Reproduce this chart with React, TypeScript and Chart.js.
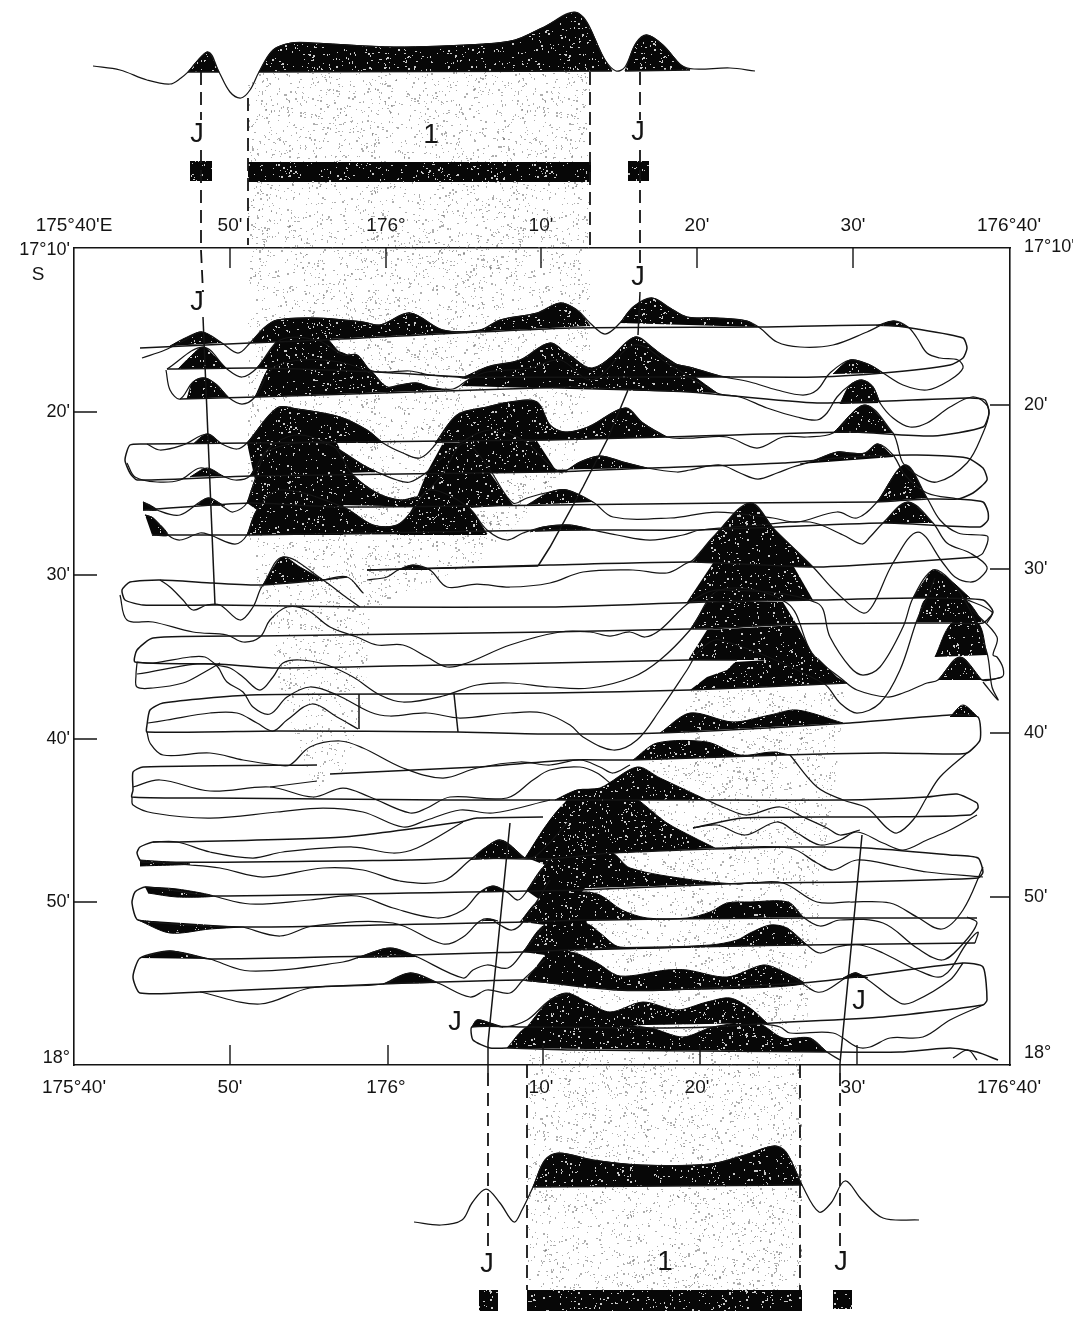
import React, { useEffect, useRef } from "react";
import { Chart, registerables } from "chart.js";
Chart.register(...registerables);

// Values are digitised sheet units; the axes map them to longitude and latitude labels.
const lonTicks = [74, 230, 386, 541, 697, 853, 1009];
const lonTopLabels = ["175°40'E", "50'", "176°", "10'", "20'", "30'", "176°40'"];
const lonBottomLabels = ["175°40'", "50'", "176°", "10'", "20'", "30'", "176°40'"];
const latLeftTicks = [250, 412, 575, 739, 902, 1058];
const latRightTicks = [247, 405, 569, 733, 897, 1053];
const latLabels = ["17°10'", "20'", "30'", "40'", "50'", "18°"];

const profileTop = [93,66,120,70,147,80,170,84,181,78,188,72,208,52,219,72,230,92,241,98,250,90,259,72,273,50,291,43,313,43,394,47,484,44,515,40,542,28,578,13,605,60,616,71,625,67,636,43,647,35,663,45,681,65,694,69,730,68,755,71];
const profileBottom = [414,1222,441,1225,462,1220,472,1203,486,1189,500,1203,514,1222,522,1210,533,1187,545,1160,559,1153,593,1160,641,1165,710,1164,745,1155,774,1146,786,1152,802,1185,819,1212,831,1203,845,1181,862,1200,883,1218,919,1220];

const c1 = [142,358,165,350,185,340,202,332,222,343,238,353,250,343,265,327,277,320,317,318,363,322,380,325,410,313,443,330,480,330,500,320,537,313,560,303,577,310,590,323,605,334,620,323,633,307,652,298,670,308,687,317,717,318,747,321,760,328,777,342,800,347,833,345,867,332,893,321,908,327,917,338,927,353,940,358,958,360,963,368,950,380,927,390,903,385,883,373,870,365,850,360,830,373,817,390,803,395,777,390,750,382,720,376,693,368,670,362,653,348,635,337,610,358,592,370,570,357,550,343,520,360,487,367,468,378,457,377,430,375,410,371,387,372,370,370,357,355,343,355,317,340,280,340,257,368,242,377,227,369,203,347,167,369];
const c2 = [166,370,170,390,180,399,193,382,205,378,217,385,228,397,242,404,255,397,273,368,300,360,340,362,370,373,387,387,400,385,417,383,430,387,453,389,468,380,487,372,530,368,560,360,592,380,635,345,670,365,717,393,740,397,767,408,797,417,817,420,827,413,837,397,850,385,862,380,873,387,880,403,893,418,910,427,927,423,950,407,972,397,985,403,989,413,983,433,967,463,937,482,917,475,903,463,897,443,893,433,865,405,833,433,807,437,783,437,757,448,727,437,693,438,667,437,643,423,625,408,588,427,565,432,550,425,537,402,510,402,487,407,457,415,435,445,420,458,403,453,383,443,367,430,340,417,297,409,277,408,247,443,237,449,222,444,207,434,183,445,160,450,147,444];
const c3 = [127,463,135,477,157,482,180,480,200,468,220,475,235,480,250,476,267,450,295,435,327,443,363,465,377,472,397,480,410,482,427,472,443,457,460,443,490,430,523,440,550,465,562,472,580,462,600,456,623,462,647,468,677,472,690,470,720,465,740,473,758,479,777,473,793,467,810,462,837,452,850,453,865,453,878,444,893,455,905,475,927,493,958,499];
const c4 = [143,502,157,510,180,515,208,498,225,508,233,512,247,503,255,480,270,450,330,445,353,475,377,493,400,500,420,497,443,473,460,445,470,445,490,470,513,503,527,498,550,492,567,490,593,502,613,517,670,518,717,512,773,518,797,522,837,512,857,518,877,502,905,465,927,498,940,520,958,533,980,535,988,537,983,553,977,557];
const c5 = [145,515,153,518,168,535,180,540,200,533,210,535,235,544,247,535,257,510,280,490,343,507,373,525,397,525,413,510,430,490,468,507,487,530,507,540,523,533,543,527,570,525,593,530,617,535,650,540,683,535,700,530,760,525,810,522,843,535,862,544,870,537,883,523,908,502,933,523,947,543,970,553,987,567,980,578,970,582,955,577,943,563,918,532,893,563,873,605,863,613,837,593,813,567,775,530,750,503,715,535,693,560,687,563,667,573,633,570,583,572,550,583,510,587,477,584,447,587,430,570,413,565,398,570,387,577,367,580];
const c6 = [160,580,170,587,183,600,193,610,207,605,220,605,240,620,253,607,260,590,263,585,283,557,323,580,343,595,360,607];
const c6b = [323,580,347,577,363,593];
const c7 = [120,595,127,620,153,622,193,632,227,635,243,642,260,637,270,620,287,607,307,610,330,627,357,637,377,645,403,645,427,657,447,667,467,663,510,645,560,632,590,632,610,636,630,632,645,637,660,630,690,602,720,590,817,603,830,637,850,667,863,675,880,667,903,627,913,598,933,570,950,580,970,610,987,653,992,687,998,700,983,682];
const c8 = [137,662,153,663,190,657,205,657,217,665,230,668,243,677,260,690,273,677,283,663,300,660,327,665,353,677,380,695,403,702,443,696,477,685,510,683,550,687,590,688,633,677,660,660,690,630,720,590,787,603,812,653,843,680,857,690,887,697,903,693,927,683,938,680,960,657,982,680,1002,677];
const c9 = [137,674,213,664,227,682,243,692,253,707,270,714,287,697,310,687,337,695,370,712,390,716,427,713,460,718,510,713,543,713,570,725,583,737,613,750,637,740,660,710,687,670,700,650,720,640,823,683,840,703,857,713,880,703,900,670,917,620,927,598,935,578];
const c10 = [137,663,136,675,137,687,153,688,183,683,203,673,220,663];
const c11 = [148,723,167,720,210,713,237,713,257,723,273,731,287,720,312,704,337,717,358,729];
const c12 = [147,732,150,743,163,755,210,753,243,760,277,765,290,765,310,747,340,741,363,748,403,768,443,778,477,768,520,762,550,765,580,760,600,767,613,773,630,765];
const c13 = [133,787,160,780,210,791,270,787,313,797,343,788,370,797,410,813,427,808,450,797,507,798,533,780,550,770,580,767,597,773,610,783];
const c13b = [270,787,317,781];
const c14 = [132,797,133,805,153,813,210,818,277,812,323,808,363,812,403,827,427,820,460,810,493,813,550,800];
const c15 = [707,800,725,808,747,815,780,807,803,817,827,828,840,835,860,830];
const c16 = [790,755,817,787,843,800,867,808,887,828,897,833,913,820,927,797,940,777,967,753];
const c17 = [693,828,717,825,745,835,777,822,797,833,820,845,840,840,857,832,883,843,903,850,927,840,950,830,977,815];
const c18 = [715,848,790,848,817,863,833,870,857,860,900,867,927,872,983,877];
const c19 = [737,884,750,883,783,883,817,902,850,902,890,903,917,917,942,929,963,910,983,867];
const c20 = [788,902,803,917,820,926,840,920,883,923,917,948,942,960,960,947,977,923,967,917];
const c21 = [787,928,807,945,820,953,837,947,860,945,883,953,917,970,943,976,967,943,978,932,975,943];
const c22 = [780,970,803,984,817,992,827,990,847,977,857,973,900,1003,913,1002,950,980,963,963];
const c23 = [757,1023,780,1027,790,1033,833,1033,857,1047,870,1047,890,1038,923,1037,950,1020,983,1005];
const c24 = [810,1038,827,1052,840,1060];
const c25 = [153,842,177,842,210,852,253,858,283,852,353,847,393,853,417,848,463,822];
const c26 = [142,862,190,865,220,868,263,877,323,868,363,870,400,881,443,881,470,860,485,848,500,840,515,850,525,858,537,855,570,820];
const c27 = [213,896,250,904,310,900,357,896,393,908,437,918,463,910,480,892,493,886,507,892,518,900,527,891,550,858];
const c28 = [243,927,280,936,313,926,393,923,443,944,463,937,480,921,490,919,500,925,512,930,523,922,550,880];
const c29 = [210,959,250,971,343,962,365,955,390,948,413,955,463,978,473,970,487,965,508,968,523,952,545,925];
const c30 = [200,992,260,1004,310,988,383,984,410,973,438,983,470,997,487,990,510,993,523,980,545,960];
const c31 = [472,1027,477,1020,487,1022,503,1027,527,1020,550,1000,570,993];
const c32 = [963,598,992,612,987,623];
const c33 = [972,610,997,637,993,655,997,657,1003,668,1002,677,982,680];
const c34 = [953,1058,968,1050,977,1060];
const curves = [c1,c2,c3,c4,c5,c6,c6b,c7,c8,c9,c10,c11,c12,c13,c13b,c14,c15,c16,c17,c18,c19,c20,c21,c22,c23,c24,c25,c26,c27,c28,c29,c30,c31,c32,c33,c34,profileTop,profileBottom];

const b1 = [140,348,250,343,323,340,570,328,757,327,883,325,917,329,963,338,967,348,963,358,950,365,883,373,817,377,733,377,690,377,468,377,377,372,257,368,167,369];
const b2 = [180,399,257,397,570,387,593,388,690,392,817,403,967,398,985,400,989,413,983,427,933,436,850,432,667,437,550,440,250,443,147,444,130,445,125,460,130,473,137,480,250,476,550,472,650,468,783,463,850,457,917,455,967,458,983,468,987,480,973,493,958,499,927,499,877,502,733,503,550,505,340,507,250,503,143,510];
const b3 = [152,535,250,535,550,530,700,530,883,523,980,527,988,520,988,512,983,502,958,499];
const b4 = [977,557,893,563,813,567,693,562,550,565,367,570];
const b5 = [347,577,323,580,263,585,213,583,160,580,130,582,122,590,125,600,143,605,217,605,360,607,550,607,707,602,817,600,917,598,983,600,993,612,983,623,950,623,790,624,710,629,690,629,550,632,260,636,153,638,137,650,135,662,217,664,277,668,443,665,550,663,690,660,737,660];
const b6 = [847,683,690,690,550,693,443,694,250,695,163,703,150,710,147,725,147,732,277,731,457,732,550,734,660,733,850,723,950,715,978,717,980,740,967,753,950,754,883,753,783,755,633,760,570,760,477,767,330,774];
const b7 = [317,765,143,767,133,772,133,790,132,797,210,798,443,800,560,800,707,800,843,800,927,797,957,794,977,803,978,808,970,815,883,817,743,818,693,828];
const b8 = [543,817,477,818,460,822,343,837,177,842,153,842,140,847,137,853,142,862,410,860,472,858,550,859,612,853,783,847,867,848,950,855,978,858,983,872,978,878,850,882,750,883,580,890,527,891,213,896,177,891,145,887,135,892,132,903,138,920,243,927,523,922,583,920,803,918,977,918];
const b9 = [975,943,803,945,610,948,523,952,210,959,170,951,140,958,133,977,140,993,200,992,383,984,523,980,550,983,617,990,667,990,800,983,840,979,963,963,983,967,987,1000,983,1005,883,1017,773,1023,710,1027,650,1028,527,1027,472,1027,473,1040,490,1048,507,1048,570,1050,827,1052,900,1052,950,1048,977,1052,998,1060];
const b10 = [367,570,538,566];
const baseTracks = [b1,b2,b3,b4,b5,b6,b7,b8,b9,b10];
const topBase = [188,72,219,72];
const topBase2 = [259,72,612,71];
const topBase3 = [625,71,690,70];
const bottomBase = [533,1187,802,1185];

const connectorA = [359,694,359,729];
const connectorB = [454,694,458,732];
const straightLines = [connectorA,connectorB,topBase,topBase2,topBase3,bottomBase];

const jLineA = [203,317,215,605];
const jLineB = [640,292,638,335];
const jLineC = [628,390,608,438,583,487,550,547,538,566];
const jLineD = [510,823,488,1043,488,1073];
const jLineE = [862,835,840,1063,840,1073];
const solidLines = [jLineA,jLineB,jLineC,jLineD,jLineE];

const dashA = [201,72,201,120];
const dashA2 = [201,150,201,250];
const dashA3 = [201,250,203,292];
const dashB = [248,98,248,245];
const dashC = [590,72,590,245];
const dashD = [640,72,640,120];
const dashD2 = [640,150,640,265];
const dashE = [488,1073,488,1250];
const dashF = [527,1065,527,1290];
const dashG = [800,1065,800,1290];
const dashH = [840,1073,840,1250];
const dashed = [dashA,dashA2,dashA3,dashB,dashC,dashD,dashD2,dashE,dashF,dashG,dashH];

const h1 = [170,346,185,338,202,332,222,343];
const h2 = [250,343,265,327,277,320,317,318,363,322,380,325,410,313,443,330,480,330,500,320,537,313,560,303,577,310,590,326];
const h3 = [620,323,633,307,652,298,670,308,687,317,717,318,747,321,757,327];
const h4 = [876,326,893,321,908,327];
const h5 = [178,369,190,357,203,347,215,357,227,369];
const h6 = [257,368,277,340,277,330,317,330,343,355,357,355,370,371];
const h6b = [462,378,487,367,520,360,550,343,570,357,592,370,610,358,635,337,653,348,670,362,693,368,720,376,730,377];
const h7 = [833,374,850,360,870,365,883,373];
const h8 = [187,399,193,382,205,378,217,385,228,397];
const h9 = [255,397,273,362,300,350,340,352,370,370,387,387,400,385,417,383,430,387,445,390];
const h10 = [462,386,468,380,487,368,530,362,560,350,592,368,635,342,670,360,717,393];
const h11 = [840,404,850,385,862,380,873,387,880,403];
const h12 = [833,433,865,405,893,433];
const h13 = [193,444,207,434,222,444];
const h14 = [247,443,277,408,297,409,340,417,367,430,383,443];
const h15 = [435,443,457,415,487,407,510,402,537,402,550,425,565,432,588,427,625,408,643,423,667,437];
const h16 = [190,477,207,468,223,476];
const h17 = [250,476,267,450,295,435,327,443,363,465,377,472];
const h18 = [427,472,443,457,460,443,490,430,523,440,550,465,562,472,580,462,600,456,623,462,647,468];
const h19 = [800,464,810,462,837,452,850,453,865,453,878,444,893,457];
const h20 = [197,505,208,498,225,506];
const h21 = [143,502,150,505,157,510,143,510];
const h22 = [247,503,255,480,270,450,330,445,353,475,377,493,400,500,420,497,432,507];
const h24 = [527,505,550,492,567,490,593,502];
const h25 = [877,502,905,465,927,498];
const h26 = [883,523,908,502,933,523];
const h27 = [247,535,257,510,280,490,343,507,373,525,397,525,413,510,430,490,468,507,487,534];
const h28 = [530,532,543,527,570,525,593,530];
const h29 = [263,585,272,570,283,557,300,567,323,580];
const h30 = [398,570,413,565,430,570];
const h31 = [693,562,715,535,750,503,775,530,813,567];
const h36 = [913,598,925,580,933,570,950,580,970,598];
const h37 = [917,622,927,598,963,598,983,622];
const h38 = [935,657,952,623,978,623,987,655];
const h39 = [938,680,960,657,982,680];
const h40 = [660,733,690,713,733,722,770,715,797,710,843,723];
const h41 = [950,717,963,705,978,717];
const h42 = [633,760,657,743,707,742,740,755,773,752,790,755];
const h43 = [555,800,577,790,600,788,637,767,660,778,707,800];
const h44 = [525,858,550,820,570,800,620,790,667,823,693,837,715,848];
const h45 = [527,890,545,865,570,850,612,853,630,868,693,880,737,884,750,883];
const h46 = [520,922,540,900,582,892,600,895,622,910,647,918,687,918,710,912,727,903,750,902,788,902,803,917];
const h47 = [523,952,545,925,587,924,600,933,620,947,710,945,737,940,750,933,770,925,787,928,807,945];
const h48 = [525,981,545,960,570,952,597,963,620,976,667,970,687,970,727,977,763,965,780,970,803,984,667,990,617,990];
const h49 = [527,1027,550,1000,567,993,587,1002,610,1012,643,1002,677,1010,707,1002,730,998,750,1008,767,1023];
const h50 = [472,1027,477,1020,487,1022,503,1027];
const h51 = [507,1048,527,1027,570,1020,650,1028,683,1037,713,1027,757,1023,783,1038,810,1038,827,1052];
const h52 = [140,860,190,864,140,866];
const h53 = [145,887,177,889,213,896,177,897,148,893];
const h54 = [138,920,170,933,210,929,243,927];
const h55 = [140,958,170,951,210,959];
const h56 = [357,958,390,948,417,957];
const h57 = [383,984,410,973,438,983];
const h58 = [470,860,500,840,525,858];
const h59 = [480,892,493,886,507,892];
const h60 = [482,921,490,919,498,921];
const h61 = [843,978,855,973,868,978];
const h62 = [145,515,153,518,168,535,152,535];
const h63 = [188,72,198,60,208,52,219,72];
const h64 = [259,72,273,50,291,43,313,43,394,47,484,44,515,40,542,28,578,13,605,60,612,71];
const h65 = [625,71,636,43,647,35,663,45,681,65,690,70];
const h66 = [533,1187,545,1160,559,1153,593,1160,641,1165,710,1164,745,1155,774,1146,786,1152,802,1185];
const humps = [h1,h2,h3,h4,h5,h6,h6b,h7,h8,h9,h10,h11,h12,h13,h14,h15,h16,h17,h18,h19,h20,h21,h22,h24,h25,h26,h27,h28,h29,h30,h31,h36,h37,h38,h39,h40,h41,h42,h43,h44,h45,h46,h47,h48,h49,h50,h51,h52,h53,h54,h55,h56,h57,h58,h59,h60,h61,h62,h63,h64,h65,h66];

const massA = [247,535,257,510,247,503,255,480,247,443,277,408,300,409,340,417,337,443,353,475,343,507,343,535];
const massB = [397,535,413,507,427,472,443,443,537,441,557,472,490,473,513,505,470,508,487,535];
const massC = [525,981,545,955,523,952,545,925,523,922,540,900,527,891,545,865,527,858,550,820,575,790,600,788,612,853,582,892,587,924,570,952,590,985];
const massD = [687,602,715,560,790,560,813,600];
const massE = [690,629,707,602,783,602,797,625];
const massF = [688,660,707,630,797,625,812,653,817,660];
const massG = [690,690,707,677,727,670,735,662,817,657,837,677,847,683];
const bars = [
  [190,161,212,161,212,181,190,181],
  [248,162,591,162,591,182,248,182],
  [628,161,649,161,649,181,628,181],
  [479,1290,498,1290,498,1311,479,1311],
  [527,1290,802,1290,802,1311,527,1311],
  [833,1290,852,1290,852,1309,833,1309],
];
const straightFills = [...bars,massA,massB,massC,massD,massE,massF,massG];

const stippleTop = [248,72,590,72,590,420,570,470,480,560,370,610,365,700,345,770,315,790,280,690,265,600,248,560];
const stippleBottom = [527,1290,802,1290,802,1060,830,830,845,690,690,690,680,740,627,780,600,850,527,1060];

const noteX = [197,431,638,197,638,455,859,487,665,841,38];
const noteY = [135,135,133,303,278,1023,1002,1265,1262,1263,275];
const noteText = ["J","1","J","J","J","J","J","J","1","J","S"];
const noteSize = [27,28,27,27,27,27,27,27,28,27,19];

const tickTopX = [230,386,541,697,853];
const tickBottomX = [230,388,543,700,857];

const FONT = "'Liberation Sans', Arial, sans-serif";
const INK = "#141414";

function pts(a: number[]) {
  const out: { x: number; y: number }[] = [];
  for (let i = 0; i < a.length; i += 2) out.push({ x: a[i], y: a[i + 1] });
  return out;
}

function noisePattern(base: string | null, speck: string, count: number, size: number) {
  const c = document.createElement("canvas");
  c.width = c.height = size;
  const g = c.getContext("2d")!;
  if (base) { g.fillStyle = base; g.fillRect(0, 0, size, size); }
  g.fillStyle = speck;
  let s = 12345;
  const next = () => { s = (s * 1103515245 + 12345) & 0x7fffffff; return s / 0x7fffffff; };
  for (let i = 0; i < count; i++) {
    const w = next() < 0.3 ? 2 : 1;
    g.fillRect(Math.floor(next() * size), Math.floor(next() * size), w, next() < 0.35 ? 2 : 1);
  }
  return g.createPattern(c, "repeat")!;
}

const polygonFill = {
  id: "polygonFill",
  beforeDatasetDraw(chart: any, args: any) {
    const ds = chart.data.datasets[args.index];
    if (!ds.polygon) return;
    const p = args.meta.data;
    const ctx = chart.ctx;
    ctx.save();
    ctx.beginPath();
    ctx.moveTo(p[0].x, p[0].y);
    for (let i = 1; i < p.length; i++) {
      if (ds.tension) ctx.bezierCurveTo(p[i - 1].cp2x, p[i - 1].cp2y, p[i].cp1x, p[i].cp1y, p[i].x, p[i].y);
      else ctx.lineTo(p[i].x, p[i].y);
    }
    ctx.closePath();
    ctx.fillStyle = ds.polygon;
    ctx.fill();
    ctx.restore();
  },
};

const notes = {
  id: "notes",
  afterDatasetsDraw(chart: any) {
    const ctx = chart.ctx;
    const xs = chart.scales.x, ys = chart.scales.y;
    ctx.save();
    ctx.fillStyle = INK;
    ctx.textAlign = "center";
    ctx.textBaseline = "middle";
    noteText.forEach((t, i) => {
      ctx.font = `${noteSize[i]}px ${FONT}`;
      ctx.fillText(t, xs.getPixelForValue(noteX[i]), ys.getPixelForValue(noteY[i]));
    });
    ctx.restore();
  },
};

export default function App() {
  const ref = useRef<HTMLCanvasElement | null>(null);
  useEffect(() => {
    document.body.style.margin = "0";
    const dark = noisePattern("#070707", "#c9c9c9", 2000, 256);
    const grain = noisePattern(null, "rgba(110,110,110,0.55)", 2300, 256);
    const base = { showLine: true, pointRadius: 0, clip: false as const };
    const tickMarks: { x: number; y: number | null }[] = [];
    const mark = (x1: number, y1: number, x2: number, y2: number) => {
      tickMarks.push({ x: x1, y: y1 }, { x: x2, y: y2 }, { x: x2, y: null });
    };
    tickTopX.forEach((x) => mark(x, 248, x, 268));
    tickBottomX.forEach((x) => mark(x, 1045, x, 1065));
    latLeftTicks.slice(1, 5).forEach((y) => mark(74, y, 97, y));
    latRightTicks.slice(1, 5).forEach((y) => mark(990, y, 1010, y));
    const datasets: any[] = [
      ...curves.map((a) => ({ ...base, data: pts(a), borderColor: INK, borderWidth: 1.25, tension: 0.35 })),
      ...baseTracks.map((a) => ({ ...base, data: pts(a), borderColor: INK, borderWidth: 1.5, tension: 0.2 })),
      ...straightLines.map((a) => ({ ...base, data: pts(a), borderColor: INK, borderWidth: 1.5 })),
      ...solidLines.map((a) => ({ ...base, data: pts(a), borderColor: INK, borderWidth: 1.5 })),
      ...dashed.map((a) => ({ ...base, data: pts(a), borderColor: INK, borderWidth: 1.8, borderDash: [13, 7] })),
      { ...base, data: tickMarks, borderColor: INK, borderWidth: 1.4, spanGaps: false },
      ...straightFills.map((a) => ({ ...base, data: pts(a), borderColor: "transparent", borderWidth: 0, polygon: dark })),
      ...humps.map((a) => ({ ...base, data: pts(a), borderColor: "#070707", borderWidth: 1, tension: 0.3, polygon: dark })),
      ...[stippleTop, stippleBottom].map((a) => ({ ...base, data: pts(a), borderWidth: 0, borderColor: "transparent", polygon: grain })),
    ];
    const tickFont = { family: FONT, size: 19 };
    const setTicks = (vals: number[]) => (s: any) => { s.ticks = vals.map((value) => ({ value })); };
    const axis = (extra: any) => ({
      type: "linear",
      grid: { drawOnChartArea: false, drawTicks: false },
      border: { display: true, color: INK, width: 1.6 },
      ...extra,
    });
    const labelFrom = (vals: number[], labels: string[]) => (v: any) => labels[vals.indexOf(v)] ?? "";
    const chart = new Chart(ref.current!, {
      type: "scatter",
      data: { datasets },
      plugins: [polygonFill, notes],
      options: {
        animation: false,
        responsive: false,
        events: [],
        layout: { padding: 0 },
        elements: { line: { capBezierPoints: false } },
        plugins: { legend: { display: false }, tooltip: { enabled: false } },
        scales: {
          x: axis({
            position: "bottom", min: 74, max: 1010,
            afterBuildTicks: setTicks(lonTicks),
            afterFit: (s: any) => { s.height = 252; },
            ticks: { autoSkip: false, maxRotation: 0, padding: 11, color: INK, font: tickFont, callback: labelFrom(lonTicks, lonBottomLabels) },
          }),
          x2: axis({
            position: "top", min: 74, max: 1010,
            afterBuildTicks: setTicks(lonTicks),
            afterFit: (s: any) => { s.height = 248; },
            ticks: { autoSkip: false, maxRotation: 0, padding: 11, color: INK, font: tickFont, callback: labelFrom(lonTicks, lonTopLabels) },
          }),
          y: axis({
            position: "left", min: 248, max: 1065, reverse: true,
            afterBuildTicks: setTicks(latLeftTicks),
            afterFit: (s: any) => { s.width = 74; },
            ticks: { autoSkip: false, padding: 4, color: INK, font: { family: FONT, size: 18 }, callback: labelFrom(latLeftTicks, latLabels) },
          }),
          y2: axis({
            position: "right", min: 248, max: 1065, reverse: true,
            afterBuildTicks: setTicks(latRightTicks),
            afterFit: (s: any) => { s.width = 63; },
            ticks: { autoSkip: false, padding: 14, color: INK, font: { family: FONT, size: 18 }, callback: labelFrom(latRightTicks, latLabels) },
          }),
        },
      } as any,
    });
    return () => chart.destroy();
  }, []);
  return <canvas ref={ref} width={1073} height={1317} style={{ display: "block", position: "absolute", left: 0, top: 0 }} />;
}
